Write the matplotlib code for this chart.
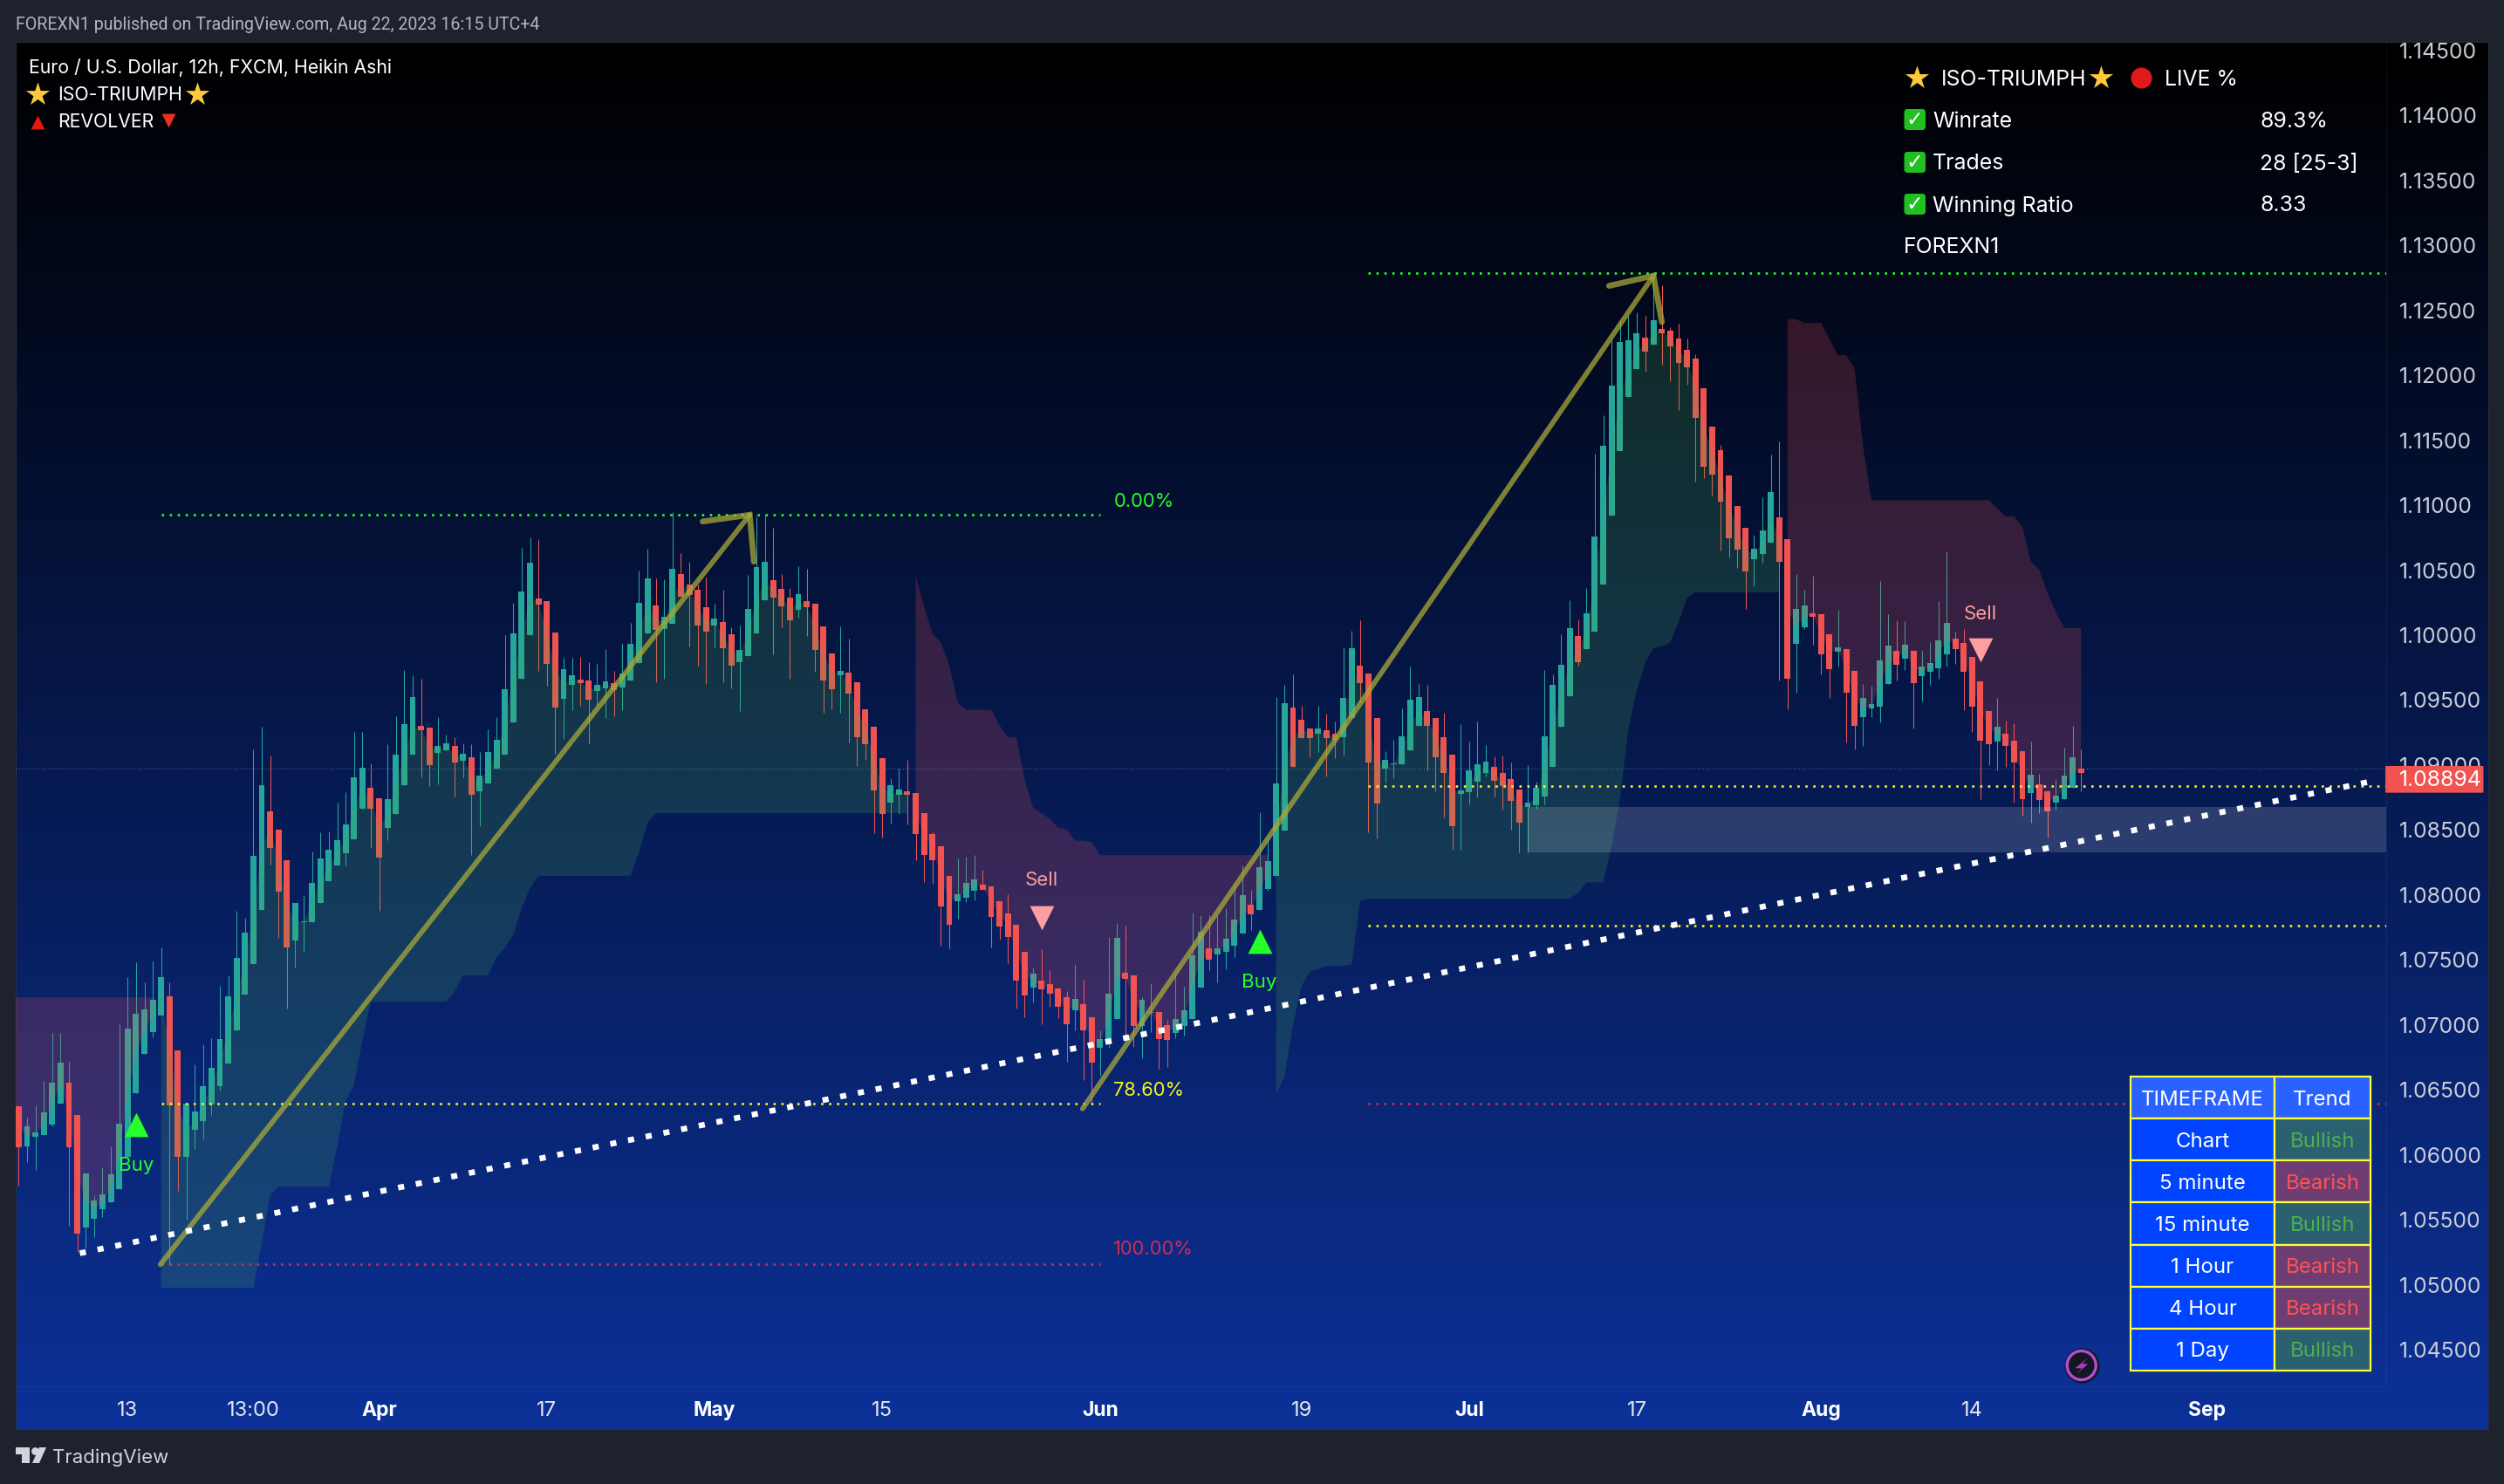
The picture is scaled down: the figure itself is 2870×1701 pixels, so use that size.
import numpy as np
import matplotlib
matplotlib.use("Agg")
import matplotlib.pyplot as plt
from matplotlib.colors import LinearSegmentedColormap
from matplotlib.patches import Rectangle, Polygon, FancyBboxPatch
from matplotlib.transforms import Bbox

W, H = 2870, 1701
plt.rcParams['font.family'] = ['Inter', 'DejaVu Sans']

# heikin ashi candles, prices in 1e-5 units (1.08894 -> 108894)
body_hi = [
    106373,106218,106170,106324,106552,106707,106552,106304,105856,105649,
    105693,105848,106239,106971,107085,107118,107191,107366,107220,106804,
    106393,106332,106528,106670,106890,107220,107517,107708,108302,108844,
    108644,108502,108266,107936,107798,108091,108282,108347,108420,108542,
    108905,108978,108823,108746,108738,109080,109316,109523,109303,109287,
    109149,109169,109149,109088,109059,108917,109100,109194,109584,110016,
    110337,110557,110284,110264,110020,109739,109690,109658,109649,109617,
    109645,109630,109705,109933,110251,110437,110227,110140,110512,110470,
    110389,110350,110215,110128,110101,110008,109885,110200,110524,110563,
    110422,110356,110290,110317,110263,110242,110068,109858,109723,109711,
    109636,109429,109294,109051,108844,108811,108796,108784,108628,108469,
    108373,108145,108004,108091,108118,108079,108064,107950,107857,107770,
    107560,107392,107344,107311,107278,107212,107197,107158,107056,106888,
    107239,107668,107398,107380,107191,107098,107098,106996,107044,107110,
    107533,107716,107587,107590,107662,107809,107998,107923,108211,108259,
    108856,109477,109441,109348,109282,109282,109267,109240,109516,109900,
    109765,109705,109360,109039,109012,109219,109504,109522,109414,109360,
    109213,109078,108805,108958,109006,109024,108985,108937,108892,108811,
    108709,108823,109219,109618,109771,110053,109993,110166,110757,111456,
    111921,112257,112269,112323,112290,112425,112359,112344,112284,112197,
    112128,111900,111606,111423,111228,110994,110826,110664,110805,111102,
    110907,110739,110199,110226,110166,110160,110007,109905,109890,109722,
    109515,109467,109803,109917,109878,109926,109878,109758,109785,109959,
    110094,109971,109938,109830,109644,109413,109293,109239,109191,109104,
    108924,108855,108795,108762,108918,109059,108972]
body_lo = [
    106060,106068,106141,106149,106231,106393,106056,105396,105437,105510,
    105579,105636,105738,105986,106475,106780,106943,107069,106381,105982,
    105982,106190,106259,106385,106528,106703,106959,107232,107468,107883,
    108359,108025,107594,107651,107789,107789,107936,108107,108225,108323,
    108428,108664,108664,108286,108514,108624,108844,109080,109267,108998,
    109092,109112,109019,109035,108770,108799,108860,108974,109080,109328,
    109666,109999,110235,109780,109442,109511,109617,109629,109503,109572,
    109592,109576,109597,109651,109786,110014,110041,110047,110086,110296,
    110308,110074,110026,110074,109900,109765,109792,109840,110014,110269,
    110290,110221,110113,110194,110215,109885,109651,109582,109690,109549,
    109213,109159,108805,108622,108709,108769,108769,108469,108307,108265,
    107911,107770,107950,107977,108031,108037,107830,107755,107674,107344,
    107224,107284,107272,107239,107137,107008,107110,106957,106708,106822,
    106849,107044,107353,106990,106990,107089,106888,106882,106936,106990,
    107044,107284,107500,107539,107560,107608,107701,107848,107884,108043,
    108145,108496,108985,109207,109207,109240,109207,109192,109213,109360,
    109630,109018,108703,108973,109006,109006,109114,109300,109300,109060,
    108937,108529,108778,108790,108871,108937,108877,108841,108724,108556,
    108676,108688,108757,108985,109294,109528,109792,109890,110025,110388,
    110919,111417,111834,112047,112182,112236,112323,112224,112095,112062,
    111672,111297,111234,111027,110745,110658,110490,110583,110625,110712,
    110562,109662,109932,110058,110139,109851,109737,109872,109554,109299,
    109368,109434,109449,109623,109770,109818,109629,109683,109716,109743,
    109851,109890,109716,109449,109185,109158,109179,109146,109017,108735,
    108783,108729,108642,108714,108735,108822,108936]
wick_hi = [
    106373,106284,106381,106568,106939,106939,106715,106304,105856,105685,
    105905,106068,107004,107370,107480,107329,107488,107594,107325,106804,
    106393,106699,106849,106898,107301,107382,107879,107822,109120,109295,
    109071,108502,108266,107936,107997,108335,108481,108489,108709,108791,
    109255,109255,109014,108746,109161,109377,109731,109690,109666,109287,
    109369,109234,109214,109169,109161,109100,109275,109369,109999,110248,
    110675,110752,110736,110264,110020,109824,109824,109833,109792,109780,
    109894,109726,109936,110095,110497,110665,110437,110431,110950,110632,
    110563,110392,110443,110242,110350,110062,110074,110464,110911,110917,
    110827,110470,110362,110530,110512,110242,110068,109858,110068,109972,
    109636,109429,109294,109051,108901,108970,109039,108784,108628,108481,
    108373,108145,108280,108292,108307,108196,108064,107950,108004,107770,
    107560,107440,107581,107422,107278,107257,107461,107350,107056,106960,
    107677,107782,107761,107380,107215,107320,107098,107041,107392,107296,
    107863,107842,107842,107842,107896,108082,108226,108037,108637,108442,
    109522,109618,109696,109456,109282,109456,109396,109336,109906,110032,
    110113,109705,109360,109105,109192,109435,109759,109624,109618,109360,
    109405,109078,109315,109180,109336,109156,109066,109072,109018,108811,
    109000,108871,109732,109696,110008,110269,110122,110361,111396,111693,
    112281,112425,112455,112485,112458,112755,112695,112371,112395,112284,
    112164,111900,111606,111465,111228,110994,110826,110772,111060,111390,
    111492,110739,110469,110349,110457,110160,110007,110193,109890,109722,
    109623,109608,110415,110160,110112,110106,109878,109878,109944,110262,
    110643,110025,110046,109830,109644,109413,109515,109341,109320,109104,
    109179,108930,108807,108891,109131,109299,109119]
wick_lo = [
    105763,105946,105881,106149,106218,106393,105457,105254,105286,105368,
    105518,105636,105738,105986,106475,106780,106902,107069,105152,105722,
    105498,106047,106117,106304,106495,106703,106959,107232,107468,107883,
    108233,107667,107126,107439,107561,107789,107936,108107,108225,108225,
    108428,108664,108359,107879,108420,108624,108844,109080,108905,108839,
    108852,109112,108758,108905,108306,108530,108860,108974,109080,109328,
    109666,109999,109723,109609,109088,109202,109421,109458,109169,109454,
    109364,109375,109426,109651,109786,110014,109636,109666,110086,110296,
    109912,109762,109621,109906,109636,109591,109417,109840,110014,110269,
    109852,110062,109666,110134,109996,109717,109405,109429,109405,109177,
    108991,109042,108475,108445,108550,108625,108541,108265,108097,108085,
    107611,107587,107815,107944,107956,108037,107593,107656,107473,107128,
    107062,107170,107008,107140,107050,106714,106960,106576,106396,106606,
    106822,107044,106882,106828,106744,106942,106660,106675,106897,106921,
    107044,107284,107422,107326,107428,107521,107701,107728,107884,108031,
    108145,108496,108985,109207,109066,109102,108910,109051,109072,109360,
    109486,108481,108433,108865,108898,109006,109114,109300,108958,108796,
    108595,108346,108346,108697,108751,108910,108757,108655,108502,108328,
    108328,108661,108697,108985,109294,109528,109765,109890,110025,110388,
    110919,111417,111834,112047,112029,112236,112083,111954,111735,111927,
    111180,111207,111075,110652,110595,110520,110199,110376,110556,110712,
    109650,109428,109554,110046,109926,109695,109515,109758,109173,109119,
    109146,109368,109326,109623,109650,109731,109281,109488,109617,109662,
    109758,109776,109422,109254,108741,108999,108957,108984,108708,108609,
    108555,108627,108444,108654,108735,108822,108795]
# candle direction as runs, in bar order
dir_runs = [("R",1),("G",5),("R",2),("G",10),("R",2),("G",10),("R",3),("G",9),("R",2),("G",4),
            ("R",2),("G",2),("R",1),("G",1),("R",1),("G",7),("R",3),("G",2),("R",2),("G",2),
            ("R",1),("G",4),("R",1),("G",2),("R",4),("G",1),("R",2),("G",4),("R",3),("G",1),
            ("R",4),("G",1),("R",5),("G",2),("R",6),("G",3),("R",6),("G",1),("R",4),("G",1),
            ("R",2),("G",3),("R",2),("G",2),("R",2),("G",4),("R",1),("G",4),("R",1),("G",4),
            ("R",3),("G",1),("R",2),("G",2),("R",3),("G",5),("R",4),("G",4),("R",4),("G",6),
            ("R",1),("G",7),("R",1),("G",1),("R",11),("G",3),("R",2),("G",2),("R",3),("G",1),
            ("R",2),("G",4),("R",1),("G",1),("R",1),("G",4),("R",5),("G",1),("R",3),("G",1),
            ("R",2),("G",3),("R",1)]

# band edges (bar, price*1e5)
green1_bar = [17,28,29,30,31,37,38,39,40,41,42,51,52,53,56,57,58,59,60,61,62,73,74,75,76,106]
green1_low = [104977,104977,105315,105693,105754,105754,106068,106414,106536,106882,107179,107179,
              107256,107382,107382,107521,107594,107696,107899,108054,108148,108148,108331,108556,108631,108631]
green2_bar = [150,151,152,153,154,155,156,158,159,160,161,185,186,187,189,190,191,192,193,194,195,196,197,198,199,200,210]
green2_low = [106468,106606,106996,107296,107410,107431,107455,107455,107467,107956,107971,107971,108016,
              108097,108097,108376,108736,109276,109576,109786,109900,109915,109945,110101,110287,110329,110329]
purple1_top = 107211
purple2_bar = [107,108,109,110,111,112,113,116,117,118,119,120,121,122,123,124,125,126,127,128,129,149]
purple2_top = [110455,110221,110011,109942,109771,109480,109426,109426,109306,109216,109210,108886,
               108670,108631,108586,108517,108505,108418,108418,108406,108307,108307]
purple3_bar = [211,212,213,215,216,217,218,219,220,221,235,236,237,238,239,240,241,242,243,244,246]
purple3_top = [112431,112431,112404,112404,112275,112155,112155,112050,111450,111039,111039,110976,
               110913,110913,110835,110565,110505,110325,110175,110055,110055]

fib_left = {"top": 110926, "mid": 106394, "bottom": 105156}
fib_right = {"top": 112785, "upper": 108836, "lower": 107761, "bottom": 106394}

price_ticks = [1.045,1.05,1.055,1.06,1.065,1.07,1.075,1.08,1.085,1.09,1.095,1.10,1.105,1.11,1.115,1.12,1.125,1.13,1.135,1.14,1.145]
time_bars = [13,28,43,63,83,103,129,153,173,193,215,233,261]
time_labels = ["13","13:00","Apr","17","May","15","Jun","19","Jul","17","Aug","14","Sep"]
bold_labels = ["Apr","May","Jun","Jul","Aug","Sep"]

buy_bars, buy_prices = [14,148], [1.06233,1.07643]
buy_text_prices = [1.05918,1.07329]
sell_bars, sell_prices = [122,234], [1.07824,1.09888]
sell_text_prices = [1.08111,1.10163]

timeframes = ["Chart","5 minute","15 minute","1 Hour","4 Hour","1 Day"]
trends = ["Bullish","Bearish","Bullish","Bearish","Bearish","Bullish"]

last_price = 1.08894

GREEN, RED = "#26a69a", "#ef5350"
body_hi, body_lo = np.array(body_hi)/1e5, np.array(body_lo)/1e5
wick_hi, wick_lo = np.array(wick_hi)/1e5, np.array(wick_lo)/1e5
bars = np.arange(len(body_hi))
dirs = "".join(a*n for a, n in dir_runs)
colors = [GREEN if d == "G" else RED for d in dirs]
mid = (body_hi + body_lo)/2

fig = plt.figure(figsize=(W/100, H/100), dpi=100, facecolor="#1e222d")

def box(x0, y0, x1, y1):
    return [x0/W, 1-y1/H, (x1-x0)/W, (y1-y0)/H]

# gradient behind the pane and both scales
ax_bg = fig.add_axes(box(18, 48, 2852, 1638))
cmap = LinearSegmentedColormap.from_list("pane", ["#000000", "#0c3198"])
ax_bg.imshow(np.linspace(0, 1, 512).reshape(-1, 1), cmap=cmap, aspect="auto")
ax_bg.set_xticks([])
ax_bg.set_yticks([])
for s in ax_bg.spines.values():
    s.set_color("#2a2e39")

ax = fig.add_axes(box(18, 48, 2735, 1589))
ax.patch.set_alpha(0)
XL, XR = -0.35, 282.4
ax.set_xlim(XL, XR)
ax.set_ylim(1.04218, 1.14567)
for s in ax.spines.values():
    s.set_visible(False)
ax.spines["right"].set_visible(True)
ax.spines["right"].set_color((1, 1, 1, 0.05))
ax.spines["bottom"].set_visible(True)
ax.spines["bottom"].set_color((1, 1, 1, 0.05))

ax.yaxis.tick_right()
ax.set_yticks(price_ticks)
ax.set_yticklabels([f"{p:.5f}" for p in price_ticks])
ax.tick_params(axis="y", length=0, pad=10.5, labelsize=17.8, labelcolor="#c9ccd6")
ax.set_xticks(time_bars)
ax.set_xticklabels(time_labels)
ax.tick_params(axis="x", length=0, pad=12, labelsize=17, labelcolor="#e4e6ec")
for t in ax.get_xticklabels():
    if t.get_text() in bold_labels:
        t.set_fontweight("bold")
        t.set_fontsize(16.5)
        t.set_color("white")

# candles
ax.vlines(bars, wick_lo, wick_hi, colors=colors, lw=0.75, zorder=2)
ax.bar(bars, body_hi-body_lo, bottom=body_lo, width=0.72, color=colors, linewidth=0, zorder=2.1)

# trend clouds sit over the candles
CLOUD_G, CLOUD_R = "#4caf50", "#ff5252"
g1 = np.arange(green1_bar[0], green1_bar[-1]+1)
ax.fill(np.r_[green1_bar, g1[::-1]], np.r_[np.array(green1_low)/1e5, mid[g1][::-1]], color=CLOUD_G, alpha=0.2, lw=0, zorder=3)
g2 = np.arange(green2_bar[0], green2_bar[-1]+1)
ax.fill(np.r_[green2_bar, g2[::-1]], np.r_[np.array(green2_low)/1e5, mid[g2][::-1]], color=CLOUD_G, alpha=0.2, lw=0, zorder=3)
p1 = np.arange(0, 17)
ax.fill(np.r_[XL, 16, p1[::-1], XL], np.r_[purple1_top/1e5, purple1_top/1e5, mid[p1][::-1], mid[0]], color=CLOUD_R, alpha=0.2, lw=0, zorder=3)
p2 = np.arange(purple2_bar[0], purple2_bar[-1]+1)
ax.fill(np.r_[purple2_bar, p2[::-1]], np.r_[np.array(purple2_top)/1e5, mid[p2][::-1]], color=CLOUD_R, alpha=0.2, lw=0, zorder=3)
p3 = np.arange(purple3_bar[0], purple3_bar[-1]+1)
ax.fill(np.r_[purple3_bar, p3[::-1]], np.r_[np.array(purple3_top)/1e5, mid[p3][::-1]], color=CLOUD_R, alpha=0.2, lw=0, zorder=3)

# support zone
ax.add_patch(Rectangle((180, 1.08331), XR-180, 1.08676-1.08331, facecolor="white", alpha=0.15, lw=0, zorder=3.5))

# fib levels
dots = (0, (1, 2.45))
fib_lw = 1.9
LIME, YELLOW, PINK = "#26ff2a", "#f5f51f", "#d22b52"
def level(x0, x1, p, c):
    ax.plot([x0, x1], [p/1e5, p/1e5], color=c, lw=fib_lw, ls=dots, dash_capstyle="butt", zorder=4)
level(17, 129, fib_left["top"], LIME)
level(17, 129, fib_left["mid"], YELLOW)
level(17, 129, fib_left["bottom"], PINK)
level(161, XR, fib_right["top"], LIME)
level(161, XR, fib_right["upper"], YELLOW)
level(161, XR, fib_right["lower"], YELLOW)
level(161, XR, fib_right["bottom"], PINK)
ax.text(130.6, 1.11031, "0.00%", color=LIME, fontsize=15.8, va="center", zorder=8)
ax.text(130.6, 1.06496, "78.60%", color=YELLOW, fontsize=15.8, va="center", zorder=8)
ax.text(130.6, 1.0527, "100.00%", color=PINK, fontsize=15.8, va="center", zorder=8)

# last close line
ax.axhline(1.0897, color="#6fa8dc", lw=0.8, ls=(0, (1, 2)), alpha=0.55, zorder=1.5)

# arrows
arrow_c = "#a8a838"
for xs, ys, lw in [([16.9, 87.2], [1.05156, 1.10926], 4.2), ([81.6, 87.2, 87.7], [1.10875, 1.10926, 1.10566], 4.8),
                   ([126.9, 195], [1.06354, 1.12767], 4.2), ([189.7, 195, 196], [1.12689, 1.12767, 1.1241], 4.8)]:
    ax.plot(xs, ys, color=arrow_c, alpha=0.75, lw=lw, solid_capstyle="round", solid_joinstyle="miter", zorder=5)

# rising trend line
ax.plot([7.3, 281.4], [1.05242, 1.08885], color="white", lw=4.7, ls=(0, (1.08, 2.09)), dash_capstyle="butt", zorder=6)

# signals
ax.scatter(buy_bars, buy_prices, marker="^", s=400, color="#26ff2a", lw=0, zorder=7)
ax.scatter(sell_bars, sell_prices, marker="v", s=400, color="#ff9ea0", lw=0, zorder=7)
for b, p in zip(buy_bars, buy_text_prices):
    ax.text(b, p, "Buy", color="#26ff2a", fontsize=16, ha="center", va="center", zorder=8)
for b, p in zip(sell_bars, sell_text_prices):
    ax.text(b, p, "Sell", color="#ff9ea0", fontsize=16, ha="center", va="center", zorder=8)

# last price tag
ax.add_patch(FancyBboxPatch((282.3, last_price-0.00107), 11.7, 0.00206, boxstyle="round,pad=0,rounding_size=0.25",
                            mutation_aspect=0.0001, facecolor="#f05350", edgecolor="none", clip_on=False, zorder=10))
ax.text(283.9, last_price-0.00012, f"{last_price:.5f}", color="white", fontsize=17.8, ha="left", va="center", zorder=11, clip_on=False)

# overlay in pixel coordinates for the page furniture
ov = fig.add_axes([0, 0, 1, 1], zorder=5)
ov.set_xlim(0, W)
ov.set_ylim(H, 0)
ov.axis("off")

ov.text(18, 29, "FOREXN1 published on TradingView.com, Aug 22, 2023 16:15 UTC+4", color="#b2b5be", fontsize=14.1, va="center", family="Roboto")
ov.text(33, 78, "Euro / U.S. Dollar, 12h, FXCM, Heikin Ashi", color="white", fontsize=15.3, va="center")
ov.text(66, 109, "ISO-TRIUMPH", color="white", fontsize=15.3, va="center")
ov.text(66, 140, "REVOLVER", color="white", fontsize=15.3, va="center")
STAR = "#fdc93a"
ov.scatter([43, 226, 2197, 2408], [108, 108, 89, 89], marker="*", s=420, color=STAR, lw=0)
ov.scatter([43], [140], marker="^", s=130, color="#e8170c", lw=0)
ov.scatter([193], [138], marker="v", s=130, color="#f0301f", lw=0)
ov.scatter([2454], [89], marker="o", s=300, color="#e01a1a", lw=0)

ov.text(2225, 91, "ISO-TRIUMPH", color="white", fontsize=17.9, va="center")
ov.text(2481, 91, "LIVE %", color="white", fontsize=17.9, va="center")
row_names = ["Winrate", "Trades", "Winning Ratio"]
row_vals = ["89.3%", "28 [25-3]", "8.33"]
for name, val, y in zip(row_names, row_vals, [137, 186, 234]):
    ov.add_patch(FancyBboxPatch((2182.5, y-12), 24.5, 24, boxstyle="round,pad=0,rounding_size=4", facecolor="#1fc01f", edgecolor="none"))
    ov.text(2194.7, y, "\u2713", color="white", fontsize=17, ha="center", va="center", family="DejaVu Sans", fontweight="bold")
    ov.text(2215, y+2, name, color="white", fontsize=17.9, va="center")
    ov.text(2590, y+2, val, color="white", fontsize=17.9, va="center")
ov.text(2182, 284, "FOREXN1", color="white", fontsize=17.9, va="center")

# timeframe table
cell_text = [["TIMEFRAME", "Trend"]] + [[a, b] for a, b in zip(timeframes, trends)]
trend_fill = {"Bullish": "#2b6070", "Bearish": "#6e3d72"}
trend_text = {"Bullish": "#4caf50", "Bearish": "#ff5252"}
fills = [["#2962ff", "#2962ff"]] + [["#0044ff", trend_fill[b]] for b in trends]
x0, x1, y0, y1 = 2442, 2717, 1234, 1571
tbl = ov.table(cellText=cell_text, cellColours=fills, cellLoc="center", colWidths=[165, 110],
               bbox=Bbox.from_bounds(x0/W, 1-y1/H, (x1-x0)/W, (y1-y0)/H), zorder=9)
tbl.auto_set_font_size(False)
tbl.set_fontsize(17.3)
for (r, c), cell in tbl.get_celld().items():
    cell.set_edgecolor("#ffff33")
    cell.set_linewidth(1.6)
    col = "white"
    if r > 0 and c == 1:
        col = trend_text[cell_text[r][1]]
    cell.get_text().set_color(col)
    cell.get_text().set_verticalalignment("center_baseline")

# boost badge
ov.scatter([2385.7], [1565], s=830, color="#131722", lw=0, zorder=9)
ov.scatter([2385.7], [1565], s=566, facecolor="none", edgecolor="#b24fd0", lw=2.4, zorder=9.5)
ov.add_patch(Polygon([(2392.7, 1556.7), (2378.3, 1568.3), (2386, 1568.3), (2380, 1575), (2393.3, 1563.3), (2386.7, 1563.3)],
                     closed=True, facecolor="#a83fc0", edgecolor="none", zorder=10))

# tradingview logo
LOGO = "#d1d4dc"
ov.add_patch(Polygon([(18, 1659), (34, 1659), (34, 1677), (25, 1677), (25, 1667), (18, 1667)], closed=True, facecolor=LOGO, edgecolor="none"))
ov.add_patch(Polygon([(45, 1659), (53, 1659), (45, 1677), (37, 1677)], closed=True, facecolor=LOGO, edgecolor="none"))
ov.scatter([40], [1663], s=40, color=LOGO, lw=0)
ov.text(60, 1671, "TradingView", color=LOGO, fontsize=16, va="center")

fig.savefig("out.png", dpi=100, facecolor=fig.get_facecolor())
